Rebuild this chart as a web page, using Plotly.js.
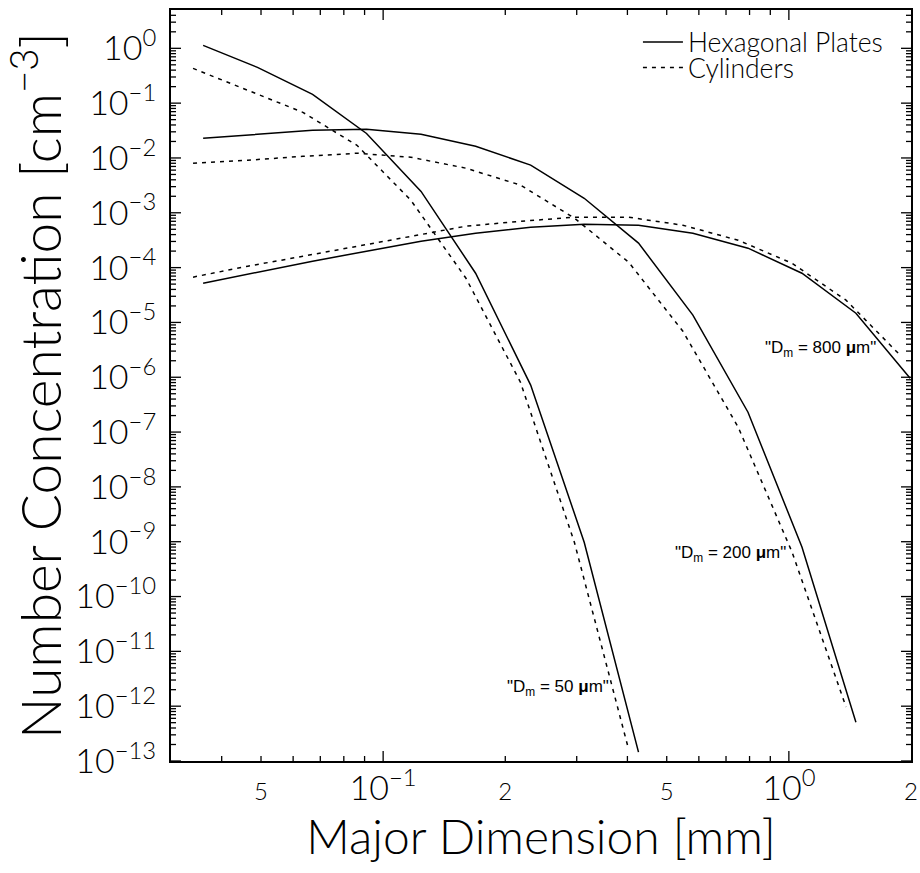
<!DOCTYPE html>
<html>
<head>
<meta charset="utf-8">
<script src="https://cdn.plot.ly/plotly-3.0.1.min.js"></script>
<style>
  html, body { margin: 0; padding: 0; background: #fff; }
  #chart { width: 920px; height: 873px; }
</style>
</head>
<body>
<div id="chart"></div>
<script>
// ---- data ----
const plateSize    = [0.036, 0.049, 0.067, 0.091, 0.124, 0.169, 0.231, 0.313, 0.426, 0.58, 0.793, 1.077, 1.463, 1.99];
const cylinderSize = [0.034, 0.0464, 0.0634, 0.0862, 0.117, 0.160, 0.218, 0.296, 0.403, 0.548, 0.75, 1.018, 1.383, 1.88];

const plates50  = [1.13, 0.45, 0.145, 0.028, 2.45e-3, 7.9e-5, 7.2e-7, 9.8e-10, 1.45e-13];
const cyl50     = [0.43, 0.171, 0.068, 0.017, 1.7e-3, 6.4e-5, 8.1e-7, 9.8e-10, 1.6e-13];
const plates200 = [0.0229, 0.0270, 0.0320, 0.0334, 0.0270, 0.0163, 7.4e-3, 1.84e-3, 2.8e-4, 1.36e-5, 2.3e-7, 8.0e-10, 5.1e-13];
const cyl200    = [8.0e-3, 9.1e-3, 0.0107, 0.0122, 0.0103, 6.5e-3, 3.2e-3, 8.0e-4, 1.25e-4, 6.9e-6, 1.23e-7, 6.5e-10, 9.7e-13];
const plates800 = [5.2e-5, 8.2e-5, 1.31e-4, 1.99e-4, 3.03e-4, 4.24e-4, 5.45e-4, 6.18e-4, 5.93e-4, 4.24e-4, 2.26e-4, 7.9e-5, 1.47e-5, 9.6e-7];
const cyl800    = [6.7e-5, 1.06e-4, 1.61e-4, 2.45e-4, 3.73e-4, 5.69e-4, 7.0e-4, 8.3e-4, 8.3e-4, 5.93e-4, 3.16e-4, 1.20e-4, 2.55e-5, 2.53e-6];

const seriesNames = ['Hexagonal Plates', 'Cylinders'];
const dmLabels = ['"D<sub>m</sub> = 50 <b>μ</b>m"', '"D<sub>m</sub> = 200 <b>μ</b>m"', '"D<sub>m</sub> = 800 <b>μ</b>m"'];

const xTickVals = [0.05, 0.1, 0.2, 0.5, 1, 2];
const xTickText = ['<span style="font-size:24px">5</span>', '10<sup>−1</sup>', '<span style="font-size:24px">2</span>',
                   '<span style="font-size:24px">5</span>', '10<sup>0</sup>', '<span style="font-size:24px">2</span>'];
const yExponents = [0, -1, -2, -3, -4, -5, -6, -7, -8, -9, -10, -11, -12, -13];

// ---- build ----
const yTickVals = yExponents.map(e => Math.pow(10, e));
const yTickText = yExponents.map(e => '10<sup>' + (e < 0 ? '−' + (-e) : e) + '</sup>');

const xMin = 0.03, xMax = 2, yMin = 1e-13, yMax = 5;
const xr = [Math.log10(xMin), Math.log10(xMax)];
const yr = [Math.log10(yMin), Math.log10(yMax)];

// tick marks drawn as shapes (inside, on all four sides); shape coordinates are data values
const tickShapes = [];
const tickLine = {color: '#000', width: 1.3};
function xTick(v, len) {
  tickShapes.push({type: 'line', xref: 'x', yref: 'paper', ysizemode: 'pixel', yanchor: 0, x0: v, x1: v, y0: 0, y1: len, line: tickLine});
  tickShapes.push({type: 'line', xref: 'x', yref: 'paper', ysizemode: 'pixel', yanchor: 1, x0: v, x1: v, y0: 0, y1: -len, line: tickLine});
}
function yTick(v, len) {
  tickShapes.push({type: 'line', yref: 'y', xref: 'paper', xsizemode: 'pixel', xanchor: 0, y0: v, y1: v, x0: 0, x1: len, line: tickLine});
  tickShapes.push({type: 'line', yref: 'y', xref: 'paper', xsizemode: 'pixel', xanchor: 1, y0: v, y1: v, x0: 0, x1: -len, line: tickLine});
}
for (let e = -2; e <= 0; e++) for (let k = 1; k <= 9; k++) {
  const v = k * Math.pow(10, e);
  if (v > xMin * 1.0001 && v < xMax * 0.9999) xTick(v, k === 1 ? 10 : 5);
}
for (let e = -13; e <= 0; e++) for (let k = 1; k <= 9; k++) {
  const v = k * Math.pow(10, e);
  if (v >= yMin * 0.9999 && v < yMax) yTick(v, k === 1 ? 10 : 5);
}

const solid = {color: '#000', width: 1.5};
const dotted = {color: '#000', width: 1.5, dash: '4px,5px'};

function tr(x, y, line, name, show, lg) {
  return {x: x.slice(0, y.length), y: y, mode: 'lines', type: 'scatter', line: line,
          name: name, legendgroup: name, showlegend: show, legend: lg, hoverinfo: 'skip'};
}

const traces = [
  tr(plateSize, plates50, solid, seriesNames[0], true, 'legend'),
  tr(cylinderSize, cyl50, dotted, seriesNames[1], true, 'legend2'),
  tr(plateSize, plates200, solid, seriesNames[0], false, 'legend'),
  tr(cylinderSize, cyl200, dotted, seriesNames[1], false, 'legend2'),
  tr(plateSize, plates800, solid, seriesNames[0], false, 'legend'),
  tr(cylinderSize, cyl800, dotted, seriesNames[1], false, 'legend2')
];

const fam = 'Lato, "DejaVu Sans", sans-serif';
const annFont = {family: '"Liberation Sans", Arial, sans-serif', size: 17, color: '#000'};
const legFont = {family: fam, size: 26.5, color: '#000', weight: 300};

const layout = {
  width: 920, height: 873,
  margin: {l: 171, r: 9, t: 10, b: 112},
  paper_bgcolor: '#fff', plot_bgcolor: '#fff',
  font: {family: fam, color: '#000', weight: 300},
  showlegend: true,
  legend: {
    x: 0.631, xanchor: 'left', y: 0.989, yanchor: 'top',
    bgcolor: 'rgba(0,0,0,0)', borderwidth: 0, font: legFont, itemwidth: 40
  },
  legend2: {
    x: 0.631, xanchor: 'left', y: 0.955, yanchor: 'top',
    bgcolor: 'rgba(0,0,0,0)', borderwidth: 0, font: legFont, itemwidth: 40
  },
  xaxis: {
    type: 'log', range: xr,
    showgrid: false, zeroline: false,
    showline: true, linewidth: 2, linecolor: '#000', mirror: true,
    ticks: '',
    tickmode: 'array', tickvals: xTickVals, ticktext: xTickText,
    tickfont: {family: fam, size: 34, color: '#000', weight: 300},
    ticklabelstandoff: -4,
    title: {text: 'Major Dimension [mm]', font: {family: fam, size: 48, color: '#000', weight: 300}, standoff: 12}
  },
  yaxis: {
    type: 'log', range: yr,
    showgrid: false, zeroline: false,
    showline: true, linewidth: 2, linecolor: '#000', mirror: true,
    ticks: '',
    tickmode: 'array', tickvals: yTickVals, ticktext: yTickText,
    tickfont: {family: fam, size: 34, color: '#000', weight: 300},
    ticklabelstandoff: 6,
    title: {text: 'Number Concentration [cm<sup>−3</sup>]', font: {family: fam, size: 55, color: '#000', weight: 300}, standoff: 5}
  },
  shapes: tickShapes,
  annotations: [
    {x: -0.570, y: -11.668, xref: 'x', yref: 'y', text: dmLabels[0], showarrow: false, font: annFont},
    {x: -0.143, y: -9.225, xref: 'x', yref: 'y', text: dmLabels[1], showarrow: false, font: annFont},
    {x: 0.079, y: -5.488, xref: 'x', yref: 'y', text: dmLabels[2], showarrow: false, font: annFont}
  ]
};

Plotly.newPlot('chart', traces, layout, {staticPlot: true, displayModeBar: false});
</script>
</body>
</html>
